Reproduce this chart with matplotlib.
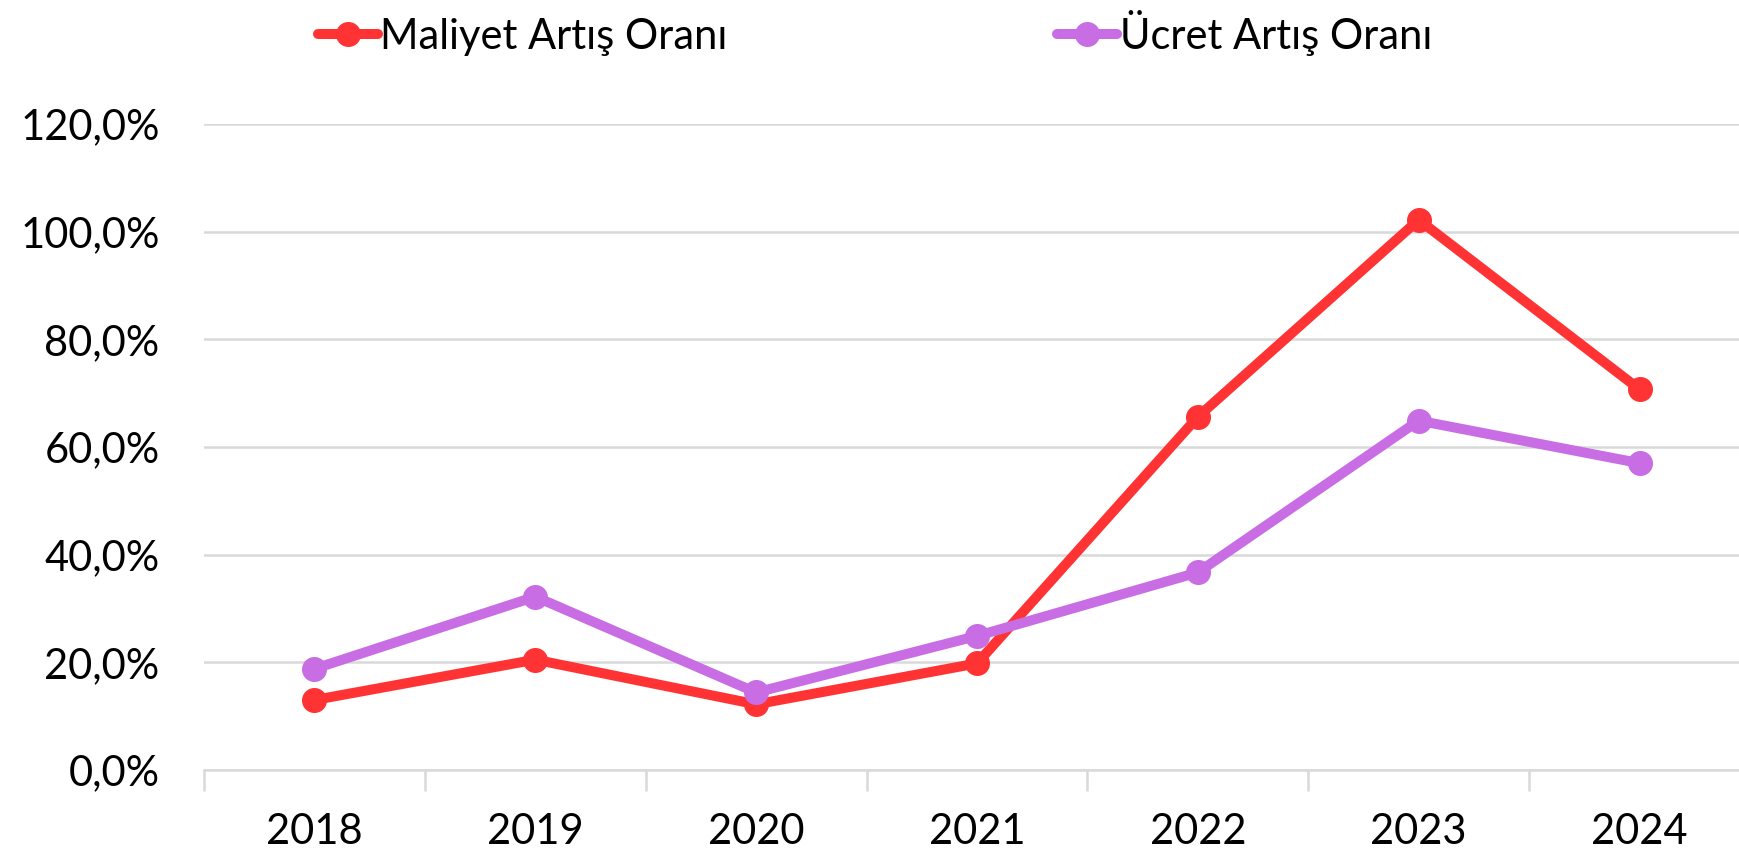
import matplotlib.pyplot as plt
from matplotlib.ticker import FuncFormatter

years = ["2018", "2019", "2020", "2021", "2022", "2023", "2024"]
maliyet = [13.0, 20.5, 12.2, 19.8, 65.6, 102.2, 70.7]
ucret = [18.8, 32.2, 14.4, 24.9, 36.7, 64.9, 57.0]

plt.rcParams['font.family'] = ['Lato', 'DejaVu Sans']

fig = plt.figure(figsize=(17.4, 8.52), dpi=100)
ax = fig.add_axes([204 / 1740, 82 / 852, 1546 / 1740, 646 / 852])

x = list(range(len(years)))
ax.plot(x, maliyet, color='#FF3333', lw=7.2, marker='o', ms=17,
        solid_capstyle='round', label='Maliyet Artış Oranı', zorder=3)
ax.plot(x, ucret, color='#C86DE3', lw=7.2, marker='o', ms=17,
        solid_capstyle='round', label='Ücret Artış Oranı', zorder=3)

ax.set_xlim(-0.5, len(years) - 0.5)
ax.set_ylim(0, 120)
ax.set_yticks(range(0, 121, 20))
ax.yaxis.set_major_formatter(FuncFormatter(lambda v, p: f"{v:.1f}%".replace('.', ',')))
ax.set_xticks(x)
ax.set_xticklabels(years)
ax.set_xticks([i - 0.5 for i in range(len(years) + 1)], minor=True)

ax.grid(axis='y', color='#D9D9D9', lw=1.8)
ax.set_axisbelow(True)
for s in ['top', 'right', 'left']:
    ax.spines[s].set_visible(False)
ax.spines['bottom'].set_color('#D9D9D9')
ax.spines['bottom'].set_linewidth(1.8)

ax.tick_params(axis='y', length=0, pad=32, labelsize=30)
ax.tick_params(axis='x', which='major', length=0, pad=31, labelsize=30)
ax.tick_params(axis='x', which='minor', length=15, width=1.8, color='#D9D9D9')

fig.legend(loc='center left', bbox_to_anchor=(318 / 1740, 1 - 33 / 852), ncol=2,
           frameon=False, fontsize=30, handlelength=1.45, handletextpad=0.05,
           columnspacing=7.9, borderaxespad=0, borderpad=0)

fig.savefig('out.png', dpi=100)
